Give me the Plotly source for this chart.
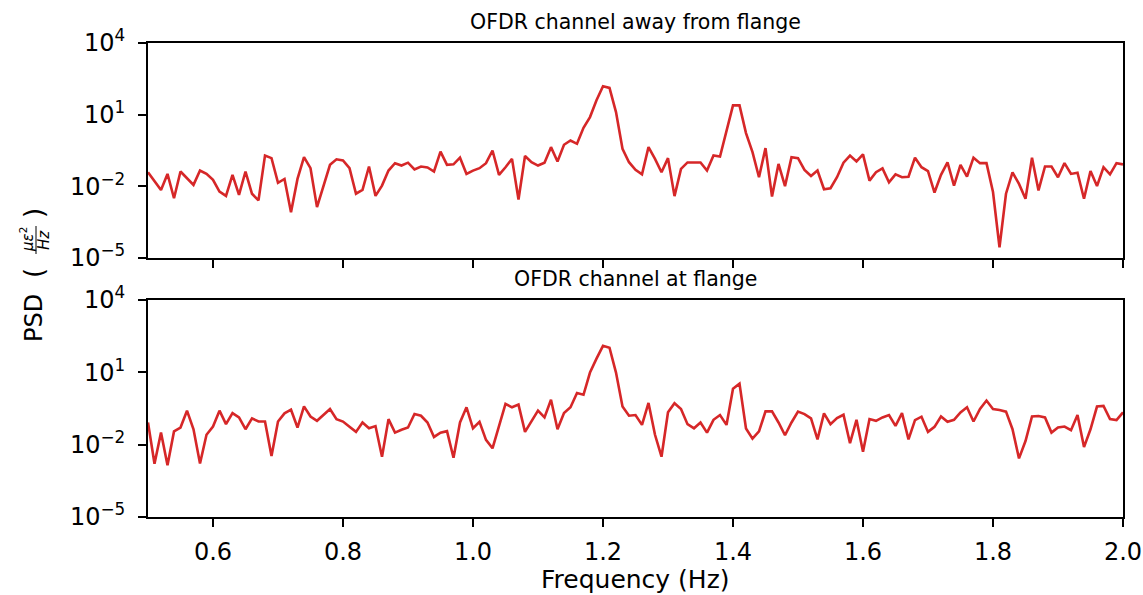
import numpy as np
import plotly.graph_objects as go
from plotly.subplots import make_subplots

freq = [round(0.5 + 0.01 * i, 2) for i in range(151)]

# log10 PSD, top panel (away from flange)
top_log = [
    -1.41, -1.78, -2.15, -1.48, -2.50, -1.38, -1.66, -1.94, -1.34, -1.48,
    -1.73, -2.22, -2.40, -1.52, -2.36, -1.38, -2.31, -2.59, -0.71, -0.82,
    -1.85, -1.69, -3.08, -1.69, -0.78, -1.24, -2.87, -1.99, -1.10, -0.87,
    -0.92, -1.24, -2.31, -2.15, -1.17, -2.40, -1.97, -1.34, -1.03, -1.13,
    -1.01, -1.29, -1.17, -1.21, -1.38, -0.55, -1.10, -1.08, -0.80, -1.48,
    -1.34, -1.24, -1.03, -0.50, -1.52, -1.20, -0.85, -2.55, -0.73, -0.99,
    -1.13, -1.01, -0.36, -0.96, -0.26, -0.08, -0.22, 0.45, 0.90, 1.60,
    2.19, 2.12, 1.11, -0.43, -0.99, -1.31, -1.50, -0.36, -0.85, -1.41,
    -0.82, -2.41, -1.27, -1.00, -1.00, -1.00, -1.34, -0.71, -0.75, 0.27,
    1.39, 1.39, 0.23, -0.57, -1.62, -0.40, -2.43, -1.06, -1.99, -0.78,
    -0.82, -1.31, -1.57, -1.34, -2.12, -2.08, -1.62, -1.01, -0.71, -0.96,
    -0.66, -1.76, -1.41, -1.25, -1.83, -1.50, -1.62, -1.60, -0.80, -1.20,
    -1.36, -2.26, -1.52, -1.00, -1.97, -1.10, -1.59, -0.80, -1.03, -1.03,
    -2.24, -4.55, -2.31, -1.42, -1.90, -2.52, -0.80, -2.17, -1.17, -1.17,
    -1.62, -1.03, -1.48, -1.43, -2.52, -1.36, -1.99, -1.20, -1.50, -1.03,
    -1.08,
]

# log10 PSD, bottom panel (at flange)
bot_log = [
    -1.08, -2.79, -1.50, -2.85, -1.45, -1.29, -0.59, -1.36, -2.78, -1.59,
    -1.25, -0.59, -1.15, -0.69, -0.87, -1.36, -0.91, -1.04, -1.04, -2.47,
    -1.04, -0.70, -0.55, -1.29, -0.41, -0.83, -1.01, -0.77, -0.52, -0.94,
    -1.04, -1.26, -1.47, -1.08, -1.32, -1.23, -2.50, -0.94, -1.50, -1.38,
    -1.29, -0.73, -0.80, -1.08, -1.68, -1.50, -1.44, -2.54, -1.08, -0.45,
    -1.32, -1.05, -1.80, -2.15, -1.22, -0.31, -0.45, -0.34, -1.47, -1.01,
    -0.59, -0.87, -0.14, -1.36, -0.69, -0.45, 0.14, 0.07, 0.99, 1.57,
    2.10, 2.02, 0.99, -0.42, -0.80, -0.77, -1.18, -0.27, -1.59, -2.50,
    -0.66, -0.28, -0.52, -1.15, -1.32, -1.08, -1.50, -0.97, -0.77, -1.18,
    0.32, 0.53, -1.33, -1.75, -1.45, -0.62, -0.62, -1.08, -1.61, -1.08,
    -0.63, -0.73, -0.91, -1.78, -0.70, -1.15, -0.90, -0.76, -1.94, -0.97,
    -2.29, -0.94, -1.01, -0.87, -0.77, -1.22, -0.69, -1.78, -0.98, -0.84,
    -1.47, -1.26, -0.83, -1.05, -0.97, -0.66, -0.45, -1.04, -0.52, -0.17,
    -0.52, -0.56, -0.63, -1.36, -2.57, -1.85, -0.83, -0.81, -0.87, -1.50,
    -1.29, -1.25, -1.40, -0.77, -2.10, -1.36, -0.42, -0.39, -0.94, -0.98,
    -0.66,
]

top_psd = [10 ** v for v in top_log]
bot_psd = [10 ** v for v in bot_log]

titles = ["OFDR channel away from flange", "OFDR channel at flange"]
xlabel = "Frequency (Hz)"
xtick_vals = [0.6, 0.8, 1.0, 1.2, 1.4, 1.6, 1.8, 2.0]
xtick_text = ["0.6", "0.8", "1.0", "1.2", "1.4", "1.6", "1.8", "2.0"]
ytick_vals = [1e-5, 1e-2, 1e1, 1e4]
ytick_text = ["10<sup>\u22125</sup>", "10<sup>\u22122</sup>", "10<sup>1</sup>", "10<sup>4</sup>"]

RED = "#d62728"
FONT = "DejaVu Sans"
W, H = 1143, 595
L, R, T, B = 148, 20, 43, 78
PW, PH = W - L - R, H - T - B


def px(x):
    return (x - L) / PW


def py(y):
    return (H - B - y) / PH


fig = make_subplots(rows=2, cols=1, shared_xaxes=True, vertical_spacing=0.0)
fig.add_trace(go.Scatter(x=freq, y=top_psd, mode="lines",
                         line=dict(color=RED, width=2.6), showlegend=False), row=1, col=1)
fig.add_trace(go.Scatter(x=freq, y=bot_psd, mode="lines",
                         line=dict(color=RED, width=2.6), showlegend=False), row=2, col=1)

axis_common = dict(showline=True, linecolor="black", linewidth=2, mirror=True,
                   ticks="outside", ticklen=8, tickwidth=2, tickcolor="black",
                   showgrid=False, zeroline=False, automargin=False,
                   tickfont=dict(family=FONT, size=24, color="black"))

fig.update_xaxes(range=[0.5, 2.0], tickvals=xtick_vals, ticktext=xtick_text,
                 ticklabelstandoff=4, **axis_common)
fig.update_xaxes(showticklabels=False, row=1, col=1)
fig.update_yaxes(type="log", range=[-5, 4], tickvals=ytick_vals, ticktext=ytick_text,
                 ticklabelstandoff=8, **axis_common)

fig.update_layout(
    width=W, height=H,
    margin=dict(l=L, r=R, t=T, b=B),
    plot_bgcolor="white", paper_bgcolor="white",
    font=dict(family=FONT, color="black"),
)
fig.layout.yaxis.domain = [py(258), 1.0]
fig.layout.yaxis2.domain = [0.0, py(300)]

ann = dict(xref="paper", yref="paper", showarrow=False, xanchor="center", yanchor="middle")
fig.add_annotation(text=titles[0], x=0.5, y=py(22), font=dict(family=FONT, size=20.5, color="black"), **ann)
fig.add_annotation(text=titles[1], x=0.5, y=py(279), font=dict(family=FONT, size=20.5, color="black"), **ann)
fig.add_annotation(text=xlabel, x=0.5, y=py(579), font=dict(family=FONT, size=25, color="black"), **ann)

# y label: PSD ( mu eps^2 / Hz ) built from rotated pieces
fig.add_annotation(text="PSD", x=px(34), y=py(318), textangle=-90,
                   font=dict(family=FONT, size=24, color="black"), **ann)
fig.add_annotation(text="(", x=px(34), y=py(273), textangle=-90,
                   font=dict(family=FONT, size=26, color="black"), **ann)
fig.add_annotation(text="<i>\u03bc\u03b5</i><sup>2</sup>", x=px(27), y=py(240), textangle=-90,
                   font=dict(family=FONT, size=15, color="black"), **ann)
fig.add_annotation(text="<i>Hz</i>", x=px(44), y=py(240), textangle=-90,
                   font=dict(family=FONT, size=15, color="black"), **ann)
fig.add_annotation(text=")", x=px(34), y=py(213), textangle=-90,
                   font=dict(family=FONT, size=26, color="black"), **ann)
fig.add_shape(type="line", xref="paper", yref="paper", x0=px(36), x1=px(36),
              y0=py(226), y1=py(254), line=dict(color="black", width=1))

fig.write_html("out.html")
